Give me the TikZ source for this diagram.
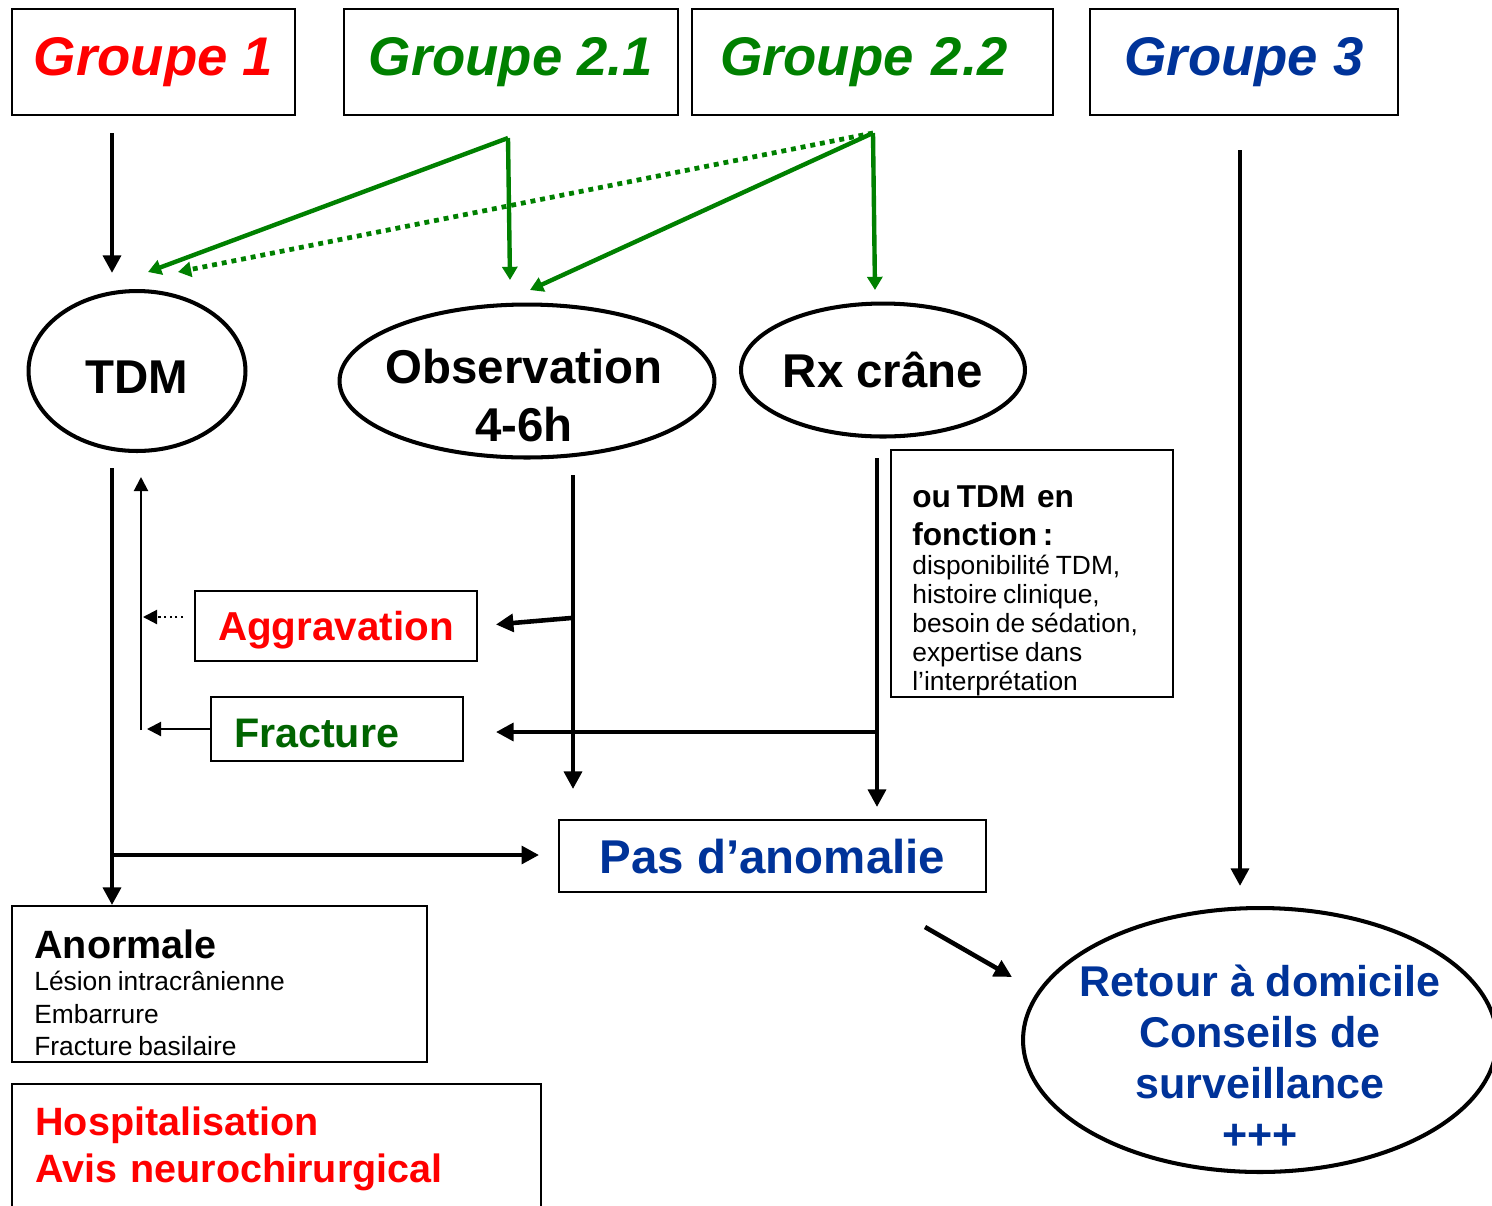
\documentclass[tikz,border=0pt]{standalone}
\usepackage{fontspec}
\setmainfont{Liberation Sans}
\usetikzlibrary{shapes.geometric,arrows.meta}
\definecolor{grpred}{RGB}{255,0,0}
\definecolor{grpgreen}{RGB}{0,128,0}
\definecolor{fracgreen}{RGB}{0,100,0}
\definecolor{grpblue}{RGB}{0,51,153}
\tikzset{
  grpbox/.style={draw, line width=1.1pt, inner sep=0pt, minimum height=2.12cm,
    font=\fontsize{31}{36}\selectfont\bfseries\itshape},
  oval/.style={draw, ellipse, line width=2.3pt, inner sep=0pt},
  box/.style={draw, line width=1.1pt, inner sep=0pt},
  bigarrow/.style={line width=2.6pt, -{Triangle[length=10pt,width=10pt]}},
  greenarrow/.style={grpgreen, line width=2.5pt, -{Triangle[length=7.5pt,width=8.5pt]}},
  thinarrow/.style={line width=1.2pt, -{Triangle[length=8pt,width=8pt]}},
}
\begin{document}
\begin{tikzpicture}[x=0.02cm, y=-0.02cm]
\useasboundingbox (0,0) rectangle (1492,1205);
% les groupes
\node[grpbox, minimum width=5.66cm, text=grpred] (grp1) at (153.5,62) {Groupe 1};
\node[grpbox, minimum width=6.68cm, text=grpgreen] (grp21) at (511,62) {Groupe 2.1};
\node[grpbox, minimum width=7.22cm, inner xsep=0.56cm, text width=6.1cm, align=left, text=grpgreen] (grp22) at (872.5,62) {Groupe 2.2};
\node[grpbox, minimum width=6.16cm, text=grpblue] (grp3) at (1244,62) {Groupe 3};
% examens
\node[oval, minimum width=4.34cm, minimum height=3.2cm, text height=0.88cm, text depth=0pt, font=\fontsize{27}{33}\selectfont\bfseries] (tdm) at (137,371) {TDM};
\node[oval, minimum width=7.5cm, minimum height=3.06cm] (obs) at (527,381) {};
\node[align=center, inner sep=0pt, font=\fontsize{27}{33}\selectfont\bfseries] (obstext) at (524,396) {Observation\\4-6h};
\node[oval, minimum width=5.68cm, minimum height=2.66cm, font=\fontsize{27}{33}\selectfont\bfseries] (rx) at (883,370) {Rx cr\^ane};
% resultats
\node[box, minimum width=5.64cm, minimum height=1.4cm, text depth=0pt, text=grpred, font=\fontsize{23}{28}\selectfont\bfseries] (aggr) at (336,626) {Aggravation};
\node[box, minimum width=5.04cm, minimum height=1.28cm, inner xsep=0.46cm, text width=4.12cm, text height=0.75cm, text depth=0pt, align=left, text=fracgreen, font=\fontsize{23.5}{28}\selectfont\bfseries] (frac) at (337,729) {Fracture};
\node[box, minimum width=8.54cm, minimum height=1.44cm, text depth=0pt, text=grpblue, font=\fontsize{27}{33}\selectfont\bfseries] (pas) at (772.5,856) {Pas d’anomalie};
\node[box, minimum width=5.64cm, minimum height=4.94cm] (note) at (1032,573.5) {};
\node[anchor=north west, inner sep=0pt, text width=5.2cm] (notetext) at (912,485)
  {{\fontsize{18}{21.6}\selectfont\bfseries ou TDM\ \ en\\ fonction~:\par}
   {\fontsize{15}{16.5}\selectfont disponibilité TDM,\\ histoire clinique,\\ besoin de sédation,\\ expertise dans\\ l’interprétation\par}};
\node[box, minimum width=8.3cm, minimum height=3.12cm] (anormale) at (219.5,984) {};
\node[anchor=north west, inner sep=0pt, text width=7.8cm] (anormaletext) at (34,929)
  {{\fontsize{22.5}{27}\selectfont\bfseries Anormale\par}
   {\fontsize{15}{18.5}\selectfont Lésion intracrânienne\\ Embarrure\\ Fracture basilaire\par}};
\node[box, minimum width=10.58cm, minimum height=2.62cm] (hosp) at (276.5,1149.5) {};
\node[anchor=north west, inner sep=0pt, text width=10cm, text=grpred, font=\fontsize{22.5}{27.3}\selectfont\bfseries] (hosptext) at (35,1106)
  {Hospitalisation\\ Avis neurochirurgical};
\node[oval, minimum width=9.48cm, minimum height=5.28cm] (retour) at (1260,1040) {};
\node[align=center, inner sep=0pt, text=grpblue, font=\fontsize{24.5}{29}\selectfont\bfseries] (retourtext) at (1260,1057)
  {Retour à domicile\\ Conseils de\\ surveillance\\ +++};
% points de depart des fleches
\coordinate (g1out) at (112,133);
\coordinate (g21out) at (508,138);
\coordinate (g22out) at (873,133);
\coordinate (tdmin1) at (148,272);
\coordinate (tdmin2) at (178,272);
\coordinate (obsin1) at (510,280);
\coordinate (obsin2) at (530,290);
\coordinate (rxin) at (875,290);
\coordinate (tdmout) at (112,468);
\coordinate (tdmanom) at (114,855);
\coordinate (tdmback) at (141,730);
\coordinate (aggrout) at (183,617);
\coordinate (obsout) at (573,475);
\coordinate (obsaggr) at (571,618);
\coordinate (rxout) at (877,458);
\coordinate (rxfrac) at (877,732);
\coordinate (g3out) at (1240,150);
\coordinate (anomout) at (925,927);
\coordinate (retin) at (1012,977);
% fleches
\draw[bigarrow, shorten >=0.32cm] (g1out) -- (g1out |- tdm.north);
\draw[greenarrow] (g21out) -- (tdmin1);
\draw[greenarrow] (g21out) -- (obsin1);
\draw[greenarrow, dash pattern=on 2.8pt off 2.8pt, line width=2.7pt] (g22out) -- (tdmin2);
\draw[greenarrow] (g22out) -- (obsin2);
\draw[greenarrow] (g22out) -- (rxin);
\draw[bigarrow] (tdmout) -- (tdmout |- anormale.north);
\draw[bigarrow, shorten >=0.38cm] (tdmanom) -- (tdmanom -| pas.west);
\draw[thinarrow, shorten >=0.48cm] (tdmback) -- (tdmback |- tdm.south);
\draw[thinarrow, dotted, shorten >=0.04cm] (aggrout) -- (aggrout -| tdmback);
\draw[thinarrow, shorten >=0.12cm] (frac.west) -- (frac.west -| tdmback);
\draw[bigarrow, shorten >=0.6cm] (obsout) -- (obsout |- pas.north);
\draw[bigarrow, shorten >=0.36cm] (obsaggr) -- (aggr.east);
\draw[bigarrow, shorten >=0.24cm] (rxout) -- (rxout |- pas.north);
\draw[bigarrow, shorten >=0.64cm] (rxfrac) -- (rxfrac -| frac.east);
\draw[bigarrow, shorten >=0.4cm] (g3out) -- (g3out |- retour.north);
\draw[bigarrow] (anomout) -- (retin);
\end{tikzpicture}
\end{document}
